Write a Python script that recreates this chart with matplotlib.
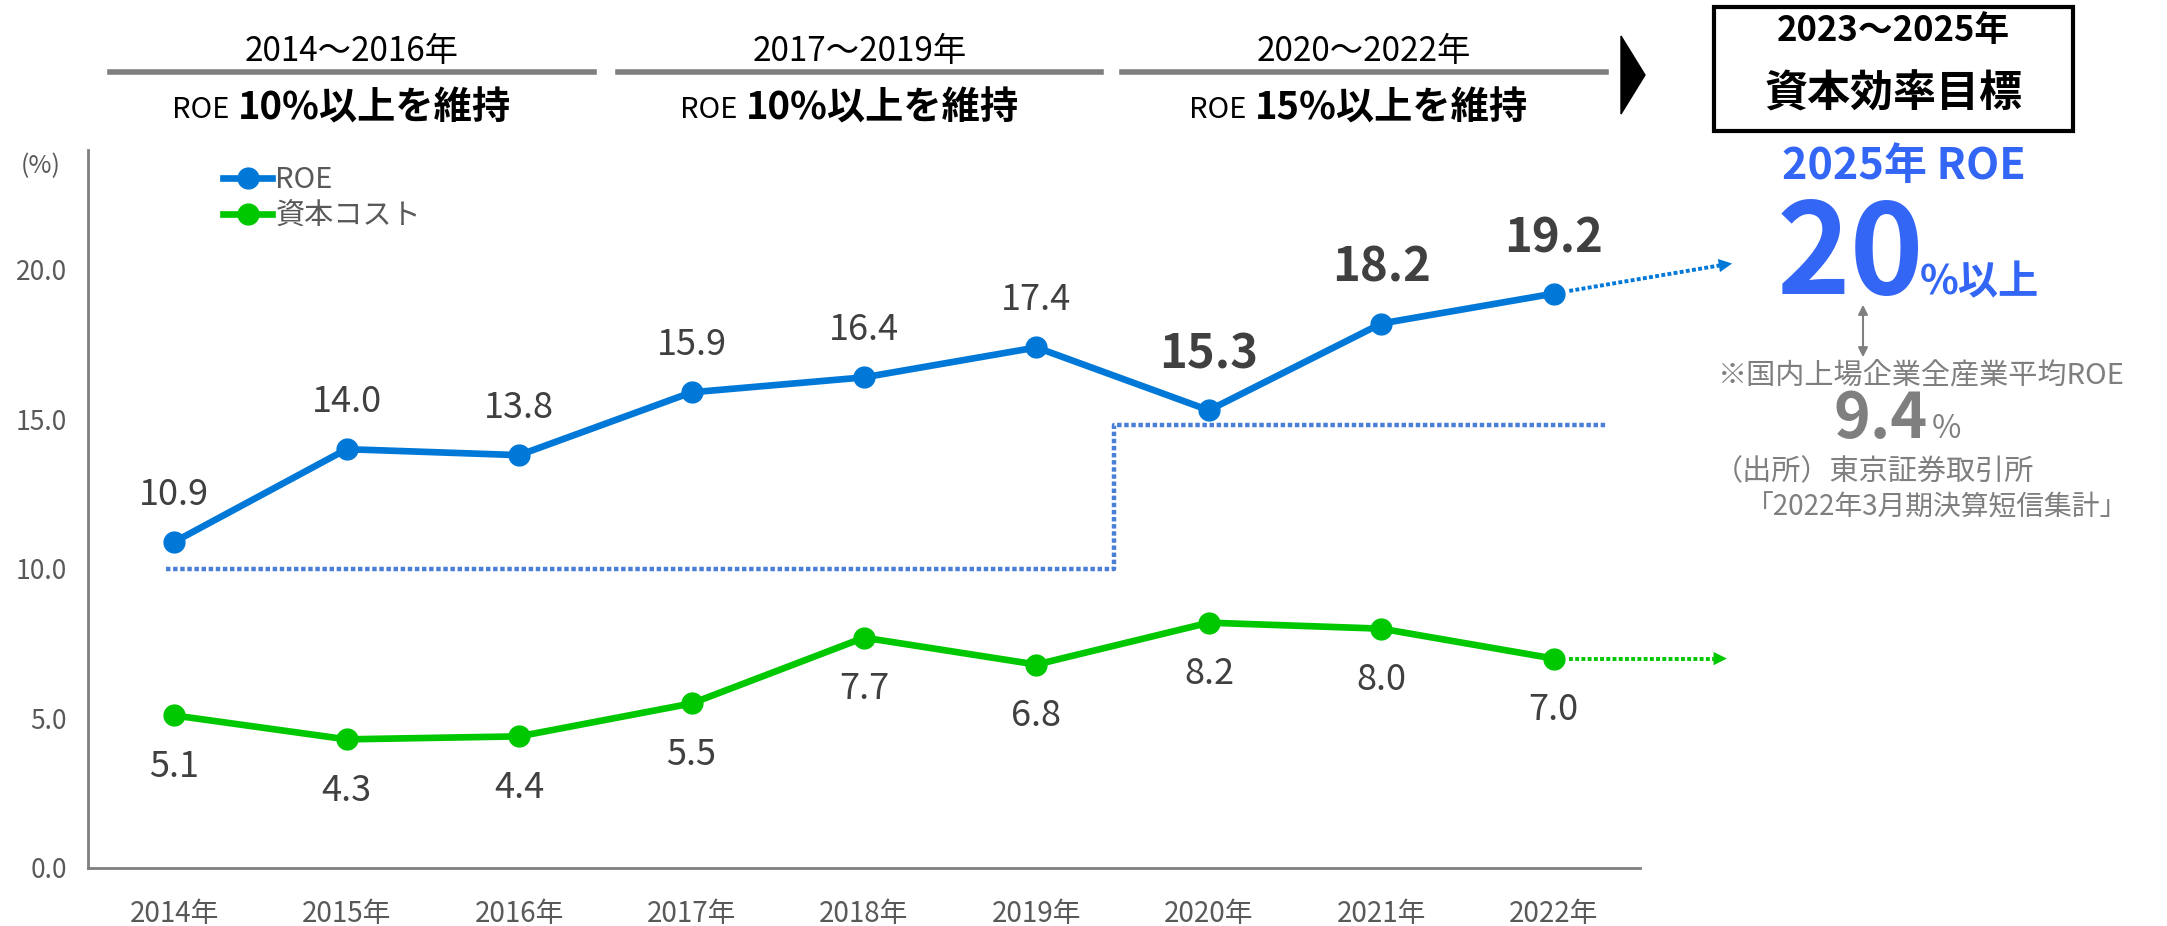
import matplotlib
matplotlib.use('Agg')
import matplotlib.pyplot as plt
from matplotlib.lines import Line2D
from matplotlib.patches import Polygon, Rectangle

plt.rcParams['font.family'] = ['Noto Sans CJK JP', 'DejaVu Sans']

# data
years = ['2014年', '2015年', '2016年', '2017年', '2018年',
         '2019年', '2020年', '2021年', '2022年']
roe = [10.9, 14.0, 13.8, 15.9, 16.4, 17.4, 15.3, 18.2, 19.2]
coc = [5.1, 4.3, 4.4, 5.5, 7.7, 6.8, 8.2, 8.0, 7.0]
yticks = [0.0, 5.0, 10.0, 15.0, 20.0]
periods = ['2014～2016年', '2017～2019年', '2020～2022年']
period_goals = ['10%以上を維持', '10%以上を維持', '15%以上を維持']
target_levels = [10.0, 14.8]   # dotted guideline (ROE target per period)
goal_roe = '20'
market_roe = '9.4'

BLUE = '#0078d7'
GREEN = '#00c800'
TXT = '#404040'
GRAY = '#7f7f7f'
ACCENT = '#3366f5'

W, H = 2167, 926
fig = plt.figure(figsize=(W / 100, H / 100), dpi=100)

def fx(x):
    return x / W

def fy(y):
    return 1 - y / H

ax = fig.add_axes([fx(88), fy(868), (1640 - 88) / W, (868 - 150) / H])
x = list(range(len(years)))

# target guideline (dotted step)
ax.plot([-0.05, 5.45, 5.45, 8.3],
        [target_levels[0], target_levels[0], target_levels[1], target_levels[1]],
        color='#4a7fd8', lw=3.2, ls=(0, (1, 0.6)), zorder=1)

ax.plot(x, roe, color=BLUE, lw=4.8, marker='o', ms=15, zorder=3, label='ROE')
ax.plot(x, coc, color=GREEN, lw=4.8, marker='o', ms=15, zorder=3, label='資本コスト')

for i, v in enumerate(roe):
    big = i >= 6
    ax.annotate(f'{v:.1f}', (i, v), xytext=(0, 40 if big else 34),
                textcoords='offset points', ha='center', va='center',
                fontsize=34 if big else 26, color=TXT,
                fontweight='bold' if big else 'normal')
for i, v in enumerate(coc):
    ax.annotate(f'{v:.1f}', (i, v), xytext=(0, -37),
                textcoords='offset points', ha='center', va='center',
                fontsize=26, color=TXT)

# dotted extensions to 2025
ax.plot([8.09, 8.97], [roe[-1] + 0.09, 20.15], color=BLUE, lw=2.8,
        ls=(0, (1, 0.6)), clip_on=False)
ax.annotate('', xy=(9.05, 20.22), xytext=(8.95, 20.13),
            arrowprops=dict(arrowstyle='-|>', color=BLUE, lw=0, mutation_scale=24),
            annotation_clip=False)
ax.plot([8.09, 8.95], [coc[-1], coc[-1]], color=GREEN, lw=2.8,
        ls=(0, (1, 0.6)), clip_on=False)
ax.annotate('', xy=(9.02, coc[-1]), xytext=(8.94, coc[-1]),
            arrowprops=dict(arrowstyle='-|>', color=GREEN, lw=0, mutation_scale=24),
            annotation_clip=False)

ax.set_xlim(-0.5, 8.5)
ax.set_ylim(0, 24)
ax.set_xticks(x)
ax.set_xticklabels(years)
ax.set_yticks(yticks)
ax.set_yticklabels([f'{t:.1f}' for t in yticks])
ax.tick_params(length=0, labelsize=20, labelcolor='#595959')
ax.tick_params(axis='x', pad=22)
ax.tick_params(axis='y', labelsize=19, pad=15)
for s in ['top', 'right']:
    ax.spines[s].set_visible(False)
for s in ['left', 'bottom']:
    ax.spines[s].set_color(GRAY)
    ax.spines[s].set_linewidth(2)

ax.legend(loc='upper left', bbox_to_anchor=(0.07, 1.015), frameon=False,
          fontsize=21, handlelength=1.7, handletextpad=0.1, labelspacing=0.2,
          labelcolor='#595959')

fig.text(fx(41), fy(166), '(%)', ha='center', va='center', fontsize=18, color='#595959')

# period headers
line_spans = [(110, 594), (618, 1101), (1122, 1606)]
goal_left = [238, 746, 1255]
for (a, b), p, g, gl in zip(line_spans, periods, period_goals, goal_left):
    fig.text(fx((a + b) / 2), fy(52), p, ha='center', va='center', fontsize=24, color='black')
    fig.add_artist(Line2D([fx(a), fx(b)], [fy(72), fy(72)], color=GRAY, lw=4))
    fig.text(fx(gl - 9), fy(110), 'ROE', ha='right', va='center', fontsize=21, color='black')
    fig.text(fx(gl), fy(108), g, ha='left', va='center', fontsize=27.5,
             fontweight='bold', color='black')

# chevron and target box
fig.add_artist(Polygon([[fx(1621), fy(36)], [fx(1645), fy(75)], [fx(1621), fy(114)]],
                       closed=True, color='black'))
fig.add_artist(Rectangle((fx(1714), fy(131)), (2073 - 1714) / W, (131 - 7) / H,
                         fill=False, edgecolor='black', lw=3))
fig.text(fx(1893), fy(31), '2023～2025年', ha='center', va='center', fontsize=25,
         fontweight='bold', color='black')
fig.text(fx(1893), fy(94), '資本効率目標', ha='center', va='center', fontsize=31,
         fontweight='bold', color='black')

fig.text(fx(1904), fy(166), '2025年 ROE', ha='center', va='center', fontsize=31,
         fontweight='bold', color=ACCENT)
fig.text(fx(1924), fy(294), goal_roe, ha='right', va='baseline', fontsize=90,
         fontweight='bold', color=ACCENT)
fig.text(fx(1920), fy(294), '%以上', ha='left', va='baseline', fontsize=29,
         fontweight='bold', color=ACCENT)

ax.annotate('', xy=(fx(1863), fy(302)), xytext=(fx(1863), fy(360)),
            xycoords='figure fraction', textcoords='figure fraction',
            arrowprops=dict(arrowstyle='<|-|>', color=GRAY, lw=1.5, mutation_scale=14))

fig.text(fx(1921), fy(375), '※国内上場企業全産業平均ROE', ha='center', va='center',
         fontsize=21, color=GRAY)
fig.text(fx(1928), fy(438), market_roe, ha='right', va='baseline', fontsize=45,
         fontweight='bold', color=GRAY)
fig.text(fx(1932), fy(438), '%', ha='left', va='baseline', fontsize=23, color=GRAY)
fig.text(fx(1714), fy(472), '（出所）東京証券取引所', ha='left', va='center',
         fontsize=21, color=GRAY)
fig.text(fx(2128), fy(507), '「2022年3月期決算短信集計」', ha='right', va='center',
         fontsize=20, color=GRAY)

fig.savefig('out.png', dpi=100)
